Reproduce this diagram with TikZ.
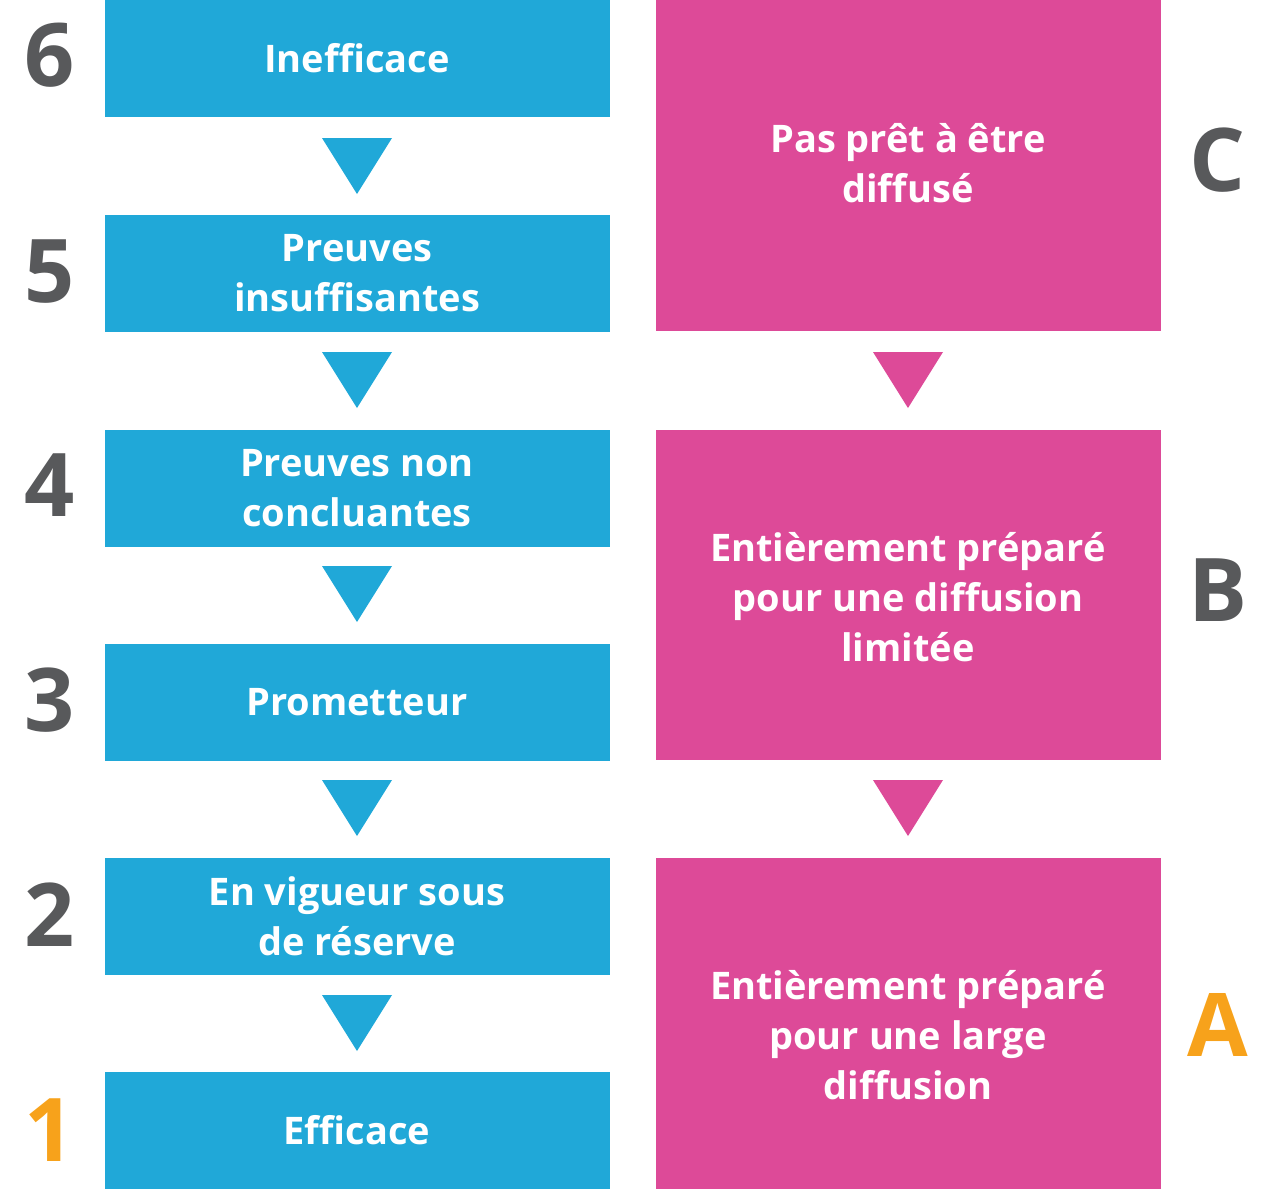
\documentclass[tikz,border=0pt]{standalone}
\usepackage{fontspec}
\setmainfont{Open Sans}[FontFace={b}{n}{Open Sans Bold}]
\definecolor{bl}{HTML}{20A8D8}
\definecolor{pk}{HTML}{DD4A98}
\definecolor{gr}{HTML}{58595B}
\definecolor{og}{HTML}{F7A21B}
\begin{document}
\begin{tikzpicture}[x=0.01cm,y=-0.01cm,
 bbox/.style={fill=bl,text=white,font=\fontsize{10.8}{14.2}\selectfont\bfseries,align=center,inner sep=0},
 pbox/.style={fill=pk,text=white,font=\fontsize{10.8}{14.2}\selectfont\bfseries,align=center,inner sep=0},
 num/.style={text=gr,font=\fontsize{25}{25}\selectfont\bfseries,inner sep=0}]
\useasboundingbox (0,0) rectangle (1275,1190);
\def\bx#1#2#3{\fill[bl] (105,#1) rectangle (610,#1+117); \node[bbox] (#3) at (357,#1+58) {#2};}
\bx{0}{Inefficace}{b6}
\bx{215}{Preuves\\insuffisantes}{b5}
\bx{430}{Preuves non\\concluantes}{b4}
\bx{644}{Prometteur}{b3}
\bx{858}{En vigueur sous\\de réserve}{b2}
\bx{1072}{Efficace}{b1}
\foreach \y in {138,352,566,780,995} \fill[bl] (322,\y) -- (392,\y) -- (357,\y+56) -- cycle;
\fill[pk] (656,0) rectangle (1161,331); \node[pbox] (pc) at (908,163) {Pas prêt à être\\diffusé};
\fill[pk] (656,430) rectangle (1161,760); \node[pbox] (pb) at (908,597) {Entièrement préparé\\pour une diffusion\\limitée};
\fill[pk] (656,858) rectangle (1161,1189); \node[pbox] (pa) at (908,1035) {Entièrement préparé\\pour une large\\diffusion};
\foreach \y in {352,780} \fill[pk] (873,\y) -- (943,\y) -- (908,\y+56) -- cycle;
\node[num] (n6) at (50,55) {6};
\node[num] (n5) at (50,272) {5};
\node[num] (n4) at (50,485) {4};
\node[num] (n3) at (50,700) {3};
\node[num] (n2) at (50,915) {2};
\node[num,text=og] (n1) at (50,1130) {1};
\node[num] (lc) at (1218,160) {C};
\node[num] (lb) at (1218,590) {B};
\node[num,text=og] (la) at (1218,1025) {A};
\end{tikzpicture}
\end{document}
